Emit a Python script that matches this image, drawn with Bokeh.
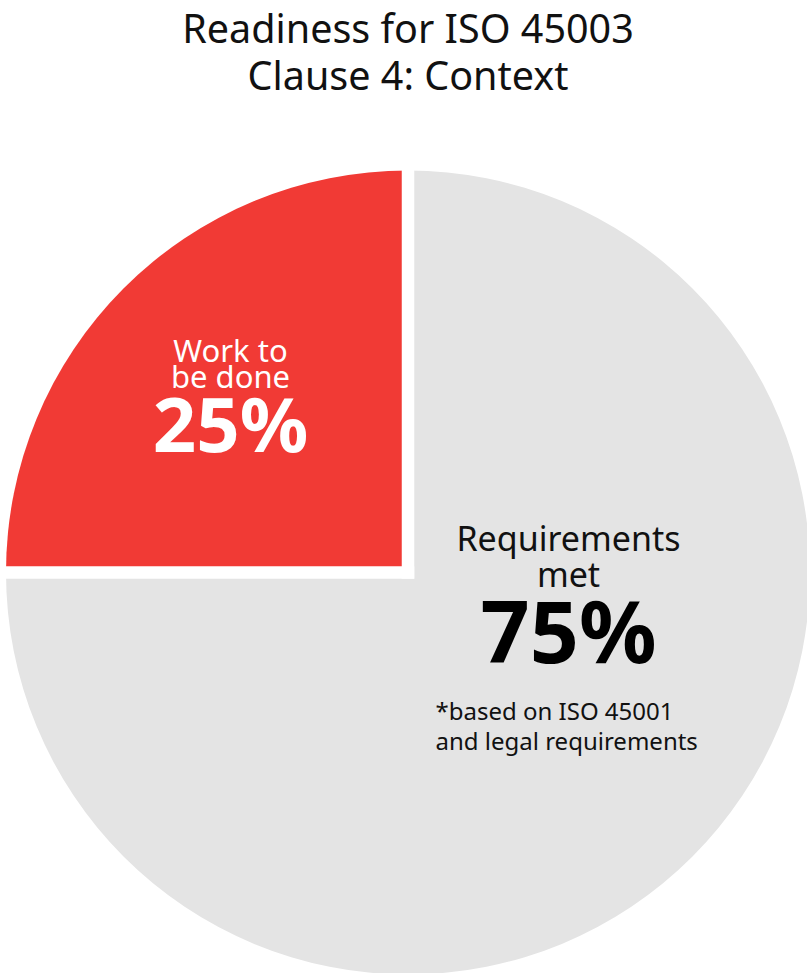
import math
from bokeh.plotting import figure
from bokeh.models import Range1d, ColumnDataSource
from bokeh.core.properties import value
from bokeh.embed import file_html
from bokeh.resources import INLINE

# ---- data ----
title_lines = ["Readiness for ISO 45003", "Clause 4: Context"]
categories = ["Work to be done", "Requirements met"]
label_lines = [["Work to", "be done"], ["Requirements", "met"]]
values = [25, 75]
pct_labels = ["25%", "75%"]
colors = ["#F13A35", "#E4E4E4"]
footnote = ["*based on ISO 45001", "and legal requirements"]

W, H = 807, 973
FONT = "Noto Sans"

p = figure(width=W, height=H, output_backend="svg", toolbar_location=None,
           x_range=Range1d(0, W), y_range=Range1d(0, H),
           min_border=0, outline_line_color=None)
p.axis.visible = False
p.grid.visible = False
p.background_fill_color = "white"
p.border_fill_color = "white"


def Y(s):
    return H - s


def base(b, size):
    # compensate renderer's baseline placement
    return Y(b - 0.43 * size)


# pie
total = sum(values)
starts, ends = [], []
a = math.pi / 2
for v in values:
    starts.append(a)
    a += 2 * math.pi * v / total
    ends.append(a)

cx, cy = 407.5, Y(572)
R = 402
src = ColumnDataSource(dict(start=starts, end=ends, color=colors, cat=categories))
p.wedge(x=cx, y=cy, radius=R, start_angle="start", end_angle="end",
        fill_color="color", line_color=None, source=src)

# white separators along slice boundaries
sx0 = [cx + (R + 20) * math.cos(s) for s in starts]
sy0 = [cy + (R + 20) * math.sin(s) for s in starts]
p.segment(x0=[cx] * len(starts), y0=[cy] * len(starts), x1=sx0, y1=sy0,
          line_color="white", line_width=12.5, line_cap="square")


def txt(x, b, t, size, color, bold=False, align="center"):
    p.text(x=[x], y=[base(b, size)], text=[t], text_font=value(FONT),
           text_font_size=f"{size}px", text_font_style="bold" if bold else "normal",
           text_align=align, text_baseline="alphabetic", text_color=color)


# title
txt(407.5, 44, title_lines[0], 39.5, "#111111")
txt(407.5, 91, title_lines[1], 39.5, "#111111")

# red slice labels
txt(230, 363, label_lines[0][0], 31, "white")
txt(230, 389, label_lines[0][1], 31, "white")
txt(230, 455, pct_labels[0], 76, "white", bold=True)

# gray slice labels
txt(568, 552, label_lines[1][0], 34, "#111111")
txt(568, 588, label_lines[1][1], 34, "#111111")
txt(568, 666, pct_labels[1], 86, "#000000", bold=True)

txt(435, 720, footnote[0], 24, "#111111", align="left")
txt(435, 750, footnote[1], 24, "#111111", align="left")

open("out.html", "w").write(file_html(p, INLINE))
